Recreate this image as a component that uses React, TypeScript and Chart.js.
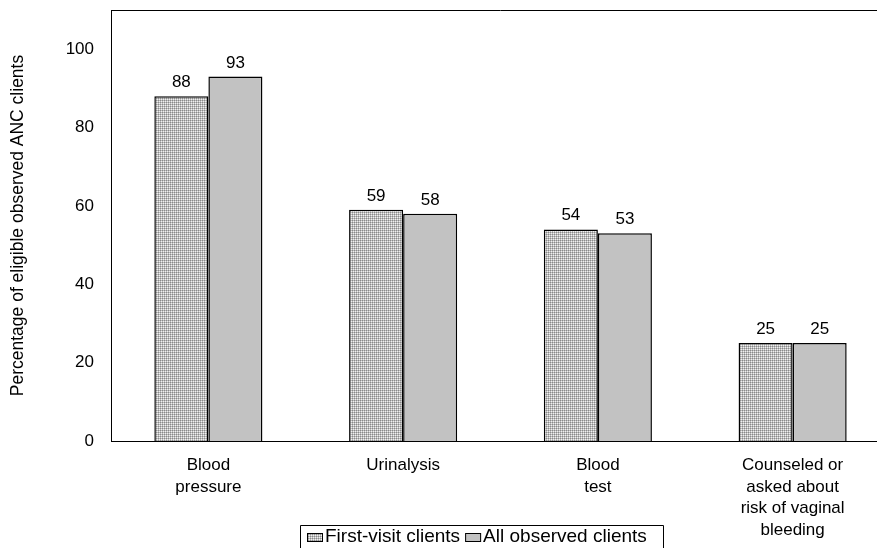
import React, { useEffect, useRef } from 'react';
import { Chart, registerables } from 'chart.js';

Chart.register(...registerables);

const categories: (string | string[])[] = [
  ['Blood', 'pressure'],
  'Urinalysis',
  ['Blood', 'test'],
  ['Counseled or', 'asked about', 'risk of vaginal', 'bleeding'],
];
const firstVisit = [88, 59, 54, 25];
const allObserved = [93, 58, 53, 25];
const seriesLabels = ['First-visit clients', 'All observed clients'];
const yTickValues = [0, 20, 40, 60, 80, 100];
const yTitle = 'Percentage of eligible observed ANC clients';

const FONT = '"Liberation Sans", Arial, sans-serif';

function makePattern(): CanvasPattern | string {
  const c = document.createElement('canvas');
  c.width = 2;
  c.height = 2;
  const g = c.getContext('2d');
  if (!g) return '#cccccc';
  g.fillStyle = '#8a8a8a';
  g.fillRect(0, 0, 1, 1);
  g.fillStyle = '#bcbcbc';
  g.fillRect(1, 0, 1, 1);
  g.fillRect(0, 1, 1, 1);
  g.fillStyle = '#f0f0f0';
  g.fillRect(1, 1, 1, 1);
  const p = g.createPattern(c, 'repeat');
  return p || '#cccccc';
}

export default function App() {
  const ref = useRef<HTMLCanvasElement>(null);

  useEffect(() => {
    if (!ref.current) return;
    const pattern = makePattern();
    const solid = '#c2c2c2';

    const extras = {
      id: 'extras',
      afterDatasetsDraw(chart: any) {
        const ctx: CanvasRenderingContext2D = chart.ctx;
        ctx.save();
        ctx.font = `17px ${FONT}`;
        ctx.fillStyle = '#000';
        ctx.textAlign = 'center';
        ctx.textBaseline = 'alphabetic';
        chart.data.datasets.forEach((ds: any, i: number) => {
          chart.getDatasetMeta(i).data.forEach((el: any, j: number) => {
            ctx.fillText(String(ds.data[j]), el.x, el.y - 9);
          });
        });
        const a = chart.chartArea;
        ctx.strokeStyle = '#000';
        ctx.lineWidth = 1;
        ctx.beginPath();
        ctx.moveTo(a.left, Math.round(a.top) + 0.5);
        ctx.lineTo(a.right, Math.round(a.top) + 0.5);
        ctx.stroke();

        // legend
        const boxL = 300.5;
        const boxT = 525.5;
        const boxW = 363;
        ctx.beginPath();
        ctx.rect(boxL, boxT, boxW, 40);
        ctx.stroke();
        ctx.font = `19px ${FONT}`;
        ctx.textAlign = 'left';
        ctx.textBaseline = 'middle';
        const fills = [pattern, solid];
        let x = 307;
        const cy = 537;
        chart.data.datasets.forEach((ds: any, i: number) => {
          ctx.fillStyle = fills[i] as any;
          ctx.fillRect(x, cy - 4, 16, 9);
          ctx.strokeStyle = '#000';
          ctx.strokeRect(x + 0.5, cy - 4 + 0.5, 15, 8);
          x += 18;
          ctx.fillStyle = '#000';
          ctx.fillText(ds.label, x, cy);
          x += ctx.measureText(ds.label).width + 5;
        });
        ctx.restore();
      },
    };

    const chart = new Chart(ref.current, {
      type: 'bar',
      data: {
        labels: categories,
        datasets: [
          {
            label: seriesLabels[0],
            data: firstVisit,
            backgroundColor: pattern as any,
            borderColor: '#000',
            borderWidth: 1.5,
            categoryPercentage: 0.555,
            barPercentage: 1,
          },
          {
            label: seriesLabels[1],
            data: allObserved,
            backgroundColor: solid,
            borderColor: '#000',
            borderWidth: 1.5,
            categoryPercentage: 0.555,
            barPercentage: 1,
          },
        ],
      },
      options: {
        animation: false,
        responsive: false,
        devicePixelRatio: 1,
        layout: { padding: { top: 10, right: 2, left: 0, bottom: 0 } },
        plugins: {
          legend: { display: false },
          tooltip: { enabled: false },
        },
        scales: {
          x: {
            grid: { display: false, drawTicks: false },
            border: { display: true, color: '#000', width: 1 },
            ticks: {
              color: '#000',
              font: { family: FONT, size: 17, lineHeight: 1.26 },
              padding: 14,
              maxRotation: 0,
              minRotation: 0,
              autoSkip: false,
            },
            afterFit(scale: any) {
              scale.height = 107;
              scale.paddingLeft = 0;
              scale.paddingRight = 0;
            },
          },
          y: {
            min: 0,
            max: 110,
            grid: { display: false, drawTicks: false },
            border: { display: true, color: '#000', width: 1 },
            ticks: {
              color: '#000',
              font: { family: FONT, size: 17 },
              padding: 17,
              stepSize: 20,
            },
            afterBuildTicks(scale: any) {
              scale.ticks = yTickValues.map((v) => ({ value: v }));
            },
            title: {
              display: true,
              text: yTitle,
              color: '#000',
              font: { family: FONT, size: 17.5, lineHeight: 1.2 },
              padding: { top: 8, bottom: 0 },
            },
            afterFit(scale: any) {
              scale.width = 111;
              scale.paddingTop = 0;
              scale.paddingBottom = 0;
            },
          },
        },
      },
      plugins: [extras],
    });
    return () => chart.destroy();
  }, []);

  return (
    <div
      style={{
        position: 'absolute',
        left: 0,
        top: 0,
        width: 877,
        height: 548,
        overflow: 'hidden',
        background: '#fff',
      }}
    >
      <canvas ref={ref} width={892} height={548} style={{ display: 'block' }} />
    </div>
  );
}
